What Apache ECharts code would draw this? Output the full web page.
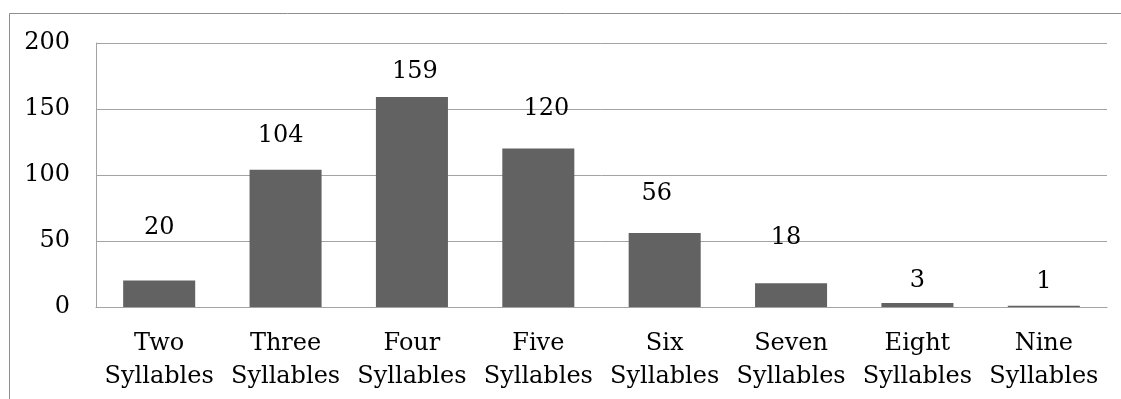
<!DOCTYPE html>
<html>
<head>
<meta charset="utf-8">
<script src="https://cdn.jsdelivr.net/npm/echarts@6/dist/echarts.min.js"></script>
<style>
  html, body { margin: 0; padding: 0; background: #fff; }
  #chart { width: 1121px; height: 399px; }
</style>
</head>
<body>
<div id="chart"></div>
<script>
// Word counts by number of syllables
const categories = ['Two\nSyllables', 'Three\nSyllables', 'Four\nSyllables', 'Five\nSyllables',
                    'Six\nSyllables', 'Seven\nSyllables', 'Eight\nSyllables', 'Nine\nSyllables'];
const counts = [20, 104, 159, 120, 56, 18, 3, 1];
const yTicks = [0, 50, 100, 150, 200];

// Hand-placed value labels: [horizontal shift, height above the bar top] in px
const labelPlacement = [[0, 53], [-5, 34], [3, 25], [8, 40], [-8, 39], [-5, 45], [0, 22], [0, 24]];

const FONT = '"DejaVu Serif", "Liberation Serif", serif';
const GRID = '#a3a3a3';

const chart = echarts.init(document.getElementById('chart'), null, { renderer: 'canvas' });

chart.setOption({
  animation: false,
  backgroundColor: '#ffffff',
  graphic: [{
    type: 'rect',
    shape: { x: 9.5, y: 13.5, width: 1300, height: 600 },
    style: { fill: 'none', stroke: '#8f8f8f', lineWidth: 1 },
    silent: true,
    z: -1
  }],
  grid: { left: 96, right: 14, top: 43, bottom: 92, containLabel: false },
  xAxis: {
    type: 'category',
    data: categories,
    axisLine: { show: true, lineStyle: { color: GRID, width: 1 } },
    axisTick: { show: false },
    axisLabel: {
      interval: 0,
      margin: 20,
      color: '#000',
      fontFamily: FONT,
      fontSize: 24,
      lineHeight: 33
    }
  },
  yAxis: {
    type: 'value',
    min: yTicks[0],
    max: yTicks[yTicks.length - 1],
    interval: yTicks[1] - yTicks[0],
    axisLine: { show: true, lineStyle: { color: GRID, width: 1 } },
    axisTick: { show: false },
    splitLine: { show: true, lineStyle: { color: GRID, width: 1 } },
    axisLabel: {
      margin: 26,
      color: '#000',
      fontFamily: FONT,
      fontSize: 24
    }
  },
  series: [{
    type: 'bar',
    barCategoryGap: '43%',
    itemStyle: { color: '#626262' },
    data: counts.map((v, i) => ({
      value: v,
      label: {
        show: true,
        position: ['50%', -labelPlacement[i][1]],
        offset: [labelPlacement[i][0], 0],
        align: 'center',
        verticalAlign: 'middle',
        color: '#000',
        fontFamily: FONT,
        fontSize: 24
      }
    }))
  }]
});
</script>
</body>
</html>
